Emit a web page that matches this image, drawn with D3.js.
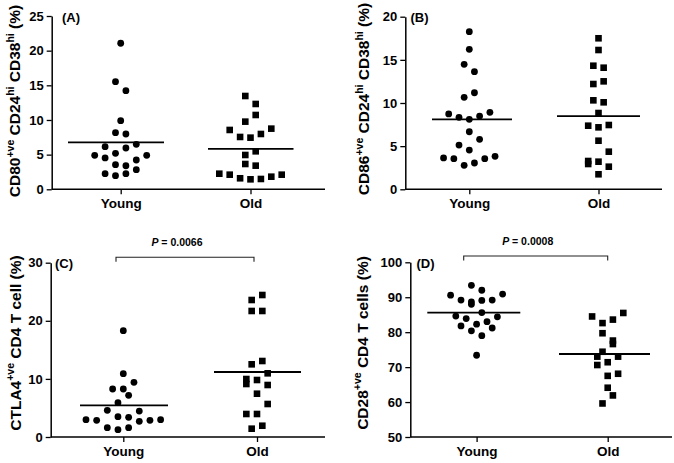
<!DOCTYPE html>
<html>
<head>
<meta charset="utf-8">
<script src="https://cdn.jsdelivr.net/npm/d3@7"></script>
<style>
  html, body { margin: 0; padding: 0; background: #fff; }
  svg { display: block; }
  text { font-family: "Liberation Sans", Arial, sans-serif; font-weight: bold; fill: #000; }
</style>
</head>
<body>
<svg id="chart" width="674" height="463"></svg>
<script>
// ---------------- DATA ----------------
const categories = ["Young", "Old"];

// Panel A: CD80+ve CD24hi CD38hi (%)
const aYoung = [21.07,15.53,14.23,9.9,8.17,7.98,6.15,5.96,6.49,5.19,4.9,4.9,4.52,4.23,3.55,3.4,2.83,2.25,2.25,1.96];
const aYoungJit = [0,-1,1,0,-1,1,-3,1,3,-1,-5,5,-3,3,-1,1,3,-3,1,-1];
const aOld = [13.46,12.31,10.72,9.76,8.56,8.75,7.55,7.45,7.98,5.48,4.95,3.65,3.41,2.25,2.11,1.59,1.44,1.49,1.82,2.11];
const aOldJit = [-1,1,1,-1,-4,4,-2,0,2,1,-1,-1,1,-6,-4,-2,0,2,4,6];
const aMeans = [6.78, 5.82];
const aTicks = [0,5,10,15,20,25];

// Panel B: CD86+ve CD24hi CD38hi (%)
const bYoung = [18.26,16.22,14.48,13.63,10.66,11.19,8.73,8.34,8.11,8.49,8.92,6.67,5.79,5.13,4.55,3.63,3.55,3.55,3.82,2.78,3.05];
const bYoungJit = [0,0,-1,1,-1,1,-4,-2,0,2,4,0,2,-2,0,-5,-3,3,5,-1,1];
const bOld = [17.5,16.14,14.32,14.09,12.2,12.51,10.31,10.08,8.84,7.37,7.18,7.45,5.63,4.36,3.28,2.93,3.2,2.62,1.74];
const bOldJit = [0,0,-1,1,-1,1,-1,1,0,-2,0,2,0,2,-2,-2,0,2,0];
const bMeans = [8.11, 8.49];
const bTicks = [0,5,10,15,20];

// Panel C: CTLA4+ve CD4 T cell (%)
const cYoung = [18.3,10.9,9.41,8.26,8.26,7.17,5.9,4.59,4.47,3.5,3.39,2.98,2.87,2.7,2.87,2.98,1.6,1.26,1.6];
const cYoungJit = [0,0,2,-2,0,1,-1,-3,3,-1,1,-7,-5,3,5,7,-3,-1,1];
const cOld = [24.44,23.58,21.69,21.69,12.51,13.08,10.96,9.98,9.12,9.81,8.95,7.45,5.68,3.96,3.96,1.43,1.94];
const cOldJit = [1,-1,-1,1,-1,1,2,-2,-2,0,2,0,2,-2,0,-1,1];
const cMeans = [5.45, 11.19];
const cTicks = [0,10,20,30];
const cP = "0.0066";

// Panel D: CD28+ve CD4 T cells (%)
const dYoung = [93.4,90.6,92.0,90.9,89.2,88.7,88.0,89.1,89.2,84.6,85.6,84.4,83.9,83.0,81.8,82.3,81.2,80.4,79.0,73.4];
const dYoungJit = [-1,-5,1,5,-3,-1,-1,1,3,-4,1,4,-2,2,-3,0,3,-1,1,0];
const dOld = [84.5,85.5,82.6,83.6,79.7,77.6,76.6,74.4,73.0,73.0,71.4,70.6,68.1,67.5,64.1,61.9,59.6];
const dOldJit = [-3,3,-1,1,-1,1,1,-1,-2,2,0,-2,2,0,0,1,-1];
const dMeans = [85.6, 73.75];
const dTicks = [50,60,70,80,90,100];
const dP = "0.0008";

// ---------------- LAYOUT ----------------
const panels = [
  { letter: "(A)", young: aYoung, yj: aYoungJit, old: aOld, oj: aOldJit, means: aMeans, ticks: aTicks,
    domain: [0,25], x0: 51.7, x1: 325, yTop: 16, yBot: 189.3, cat: [120.7, 250.5], unit: 5.2,
    lines: [[-52.7, 43.3], [-42.5, 43]], letterPos: [62, 21.5],
    label: [["CD80"],["+ve","sup"],[" CD24"],["hi","sup"],[" CD38"],["hi","sup"],[" (%)"]], labelPos: [20, 101] },
  { letter: "(B)", young: bYoung, yj: bYoungJit, old: bOld, oj: bOldJit, means: bMeans, ticks: bTicks,
    domain: [0,20], x0: 405.3, x1: 662, yTop: 16.7, yBot: 189.3, cat: [469.3, 598.5], unit: 5.15,
    lines: [[-37.3, 42.7], [-41.5, 41.5]], letterPos: [410.5, 21.5],
    label: [["CD86"],["+ve","sup"],[" CD24"],["hi","sup"],[" CD38"],["hi","sup"],[" (%)"]], labelPos: [369, 99] },
  { letter: "(C)", young: cYoung, yj: cYoungJit, old: cOld, oj: cOldJit, means: cMeans, ticks: cTicks,
    domain: [0,30], x0: 50.7, x1: 325, yTop: 262.7, yBot: 437, cat: [123.3, 257], unit: 5.33,
    lines: [[-43.3, 44.7], [-43, 44]], letterPos: [55, 267.5], p: cP, bracket: [116, 254, 257.3],
    label: [["CTLA4"],["+ve","sup"],[" CD4 T cell (%)"]], labelPos: [20.5, 343] },
  { letter: "(D)", young: dYoung, yj: dYoungJit, old: dOld, oj: dOldJit, means: dMeans, ticks: dTicks,
    domain: [50,100], x0: 410.3, x1: 672, yTop: 262.3, yBot: 437, cat: [476.6, 607.7], unit: 5.2,
    lines: [[-49.3, 43.7], [-48.7, 42.3]], letterPos: [416.5, 267.5], p: dP, bracket: [463.7, 607.7, 256],
    label: [["CD28"],["+ve","sup"],[" CD4 T cells (%)"]], labelPos: [367.5, 343] }
];

const svg = d3.select("#chart");

panels.forEach(p => {
  const g = svg.append("g");
  const y = d3.scaleLinear().domain(p.domain).range([p.yBot, p.yTop]);
  const x = d3.scalePoint().domain(categories).range(p.cat);

  // Y axis
  const yAxis = d3.axisLeft(y).tickValues(p.ticks).tickSize(5).tickPadding(3).tickSizeOuter(0);
  const ya = g.append("g").attr("transform", `translate(${p.x0},0)`).call(yAxis);
  ya.select(".domain").attr("stroke", "#000").attr("stroke-width", 1.5);
  ya.selectAll(".tick line").attr("stroke", "#000").attr("stroke-width", 1.3);
  ya.selectAll(".tick text").style("font-size", "13px").style("font-weight", "bold")
    .style("font-family", "'Liberation Sans', Arial, sans-serif").attr("fill", "#000");

  // X axis
  const xAxis = d3.axisBottom(x).tickSize(5).tickPadding(4).tickSizeOuter(0);
  const xa = g.append("g").attr("transform", `translate(0,${p.yBot})`).call(xAxis);
  xa.select(".domain").attr("d", `M${p.x0},0H${p.x1}`).attr("stroke", "#000").attr("stroke-width", 1.5);
  xa.selectAll(".tick line").attr("stroke", "#000").attr("stroke-width", 1.3);
  xa.selectAll(".tick text").style("font-size", "13.5px").style("font-weight", "bold")
    .style("font-family", "'Liberation Sans', Arial, sans-serif").attr("fill", "#000");

  // Points: Young circles
  g.selectAll("circle.pt").data(p.young.map((v, i) => ({ v, j: p.yj[i] })))
    .enter().append("circle").attr("class", "pt")
    .attr("cx", d => x("Young") + d.j * p.unit)
    .attr("cy", d => y(d.v))
    .attr("r", 3.4).attr("fill", "#000");

  // Old squares
  const s = 6.6;
  g.selectAll("rect.pt").data(p.old.map((v, i) => ({ v, j: p.oj[i] })))
    .enter().append("rect").attr("class", "pt")
    .attr("x", d => x("Old") + d.j * p.unit - s / 2)
    .attr("y", d => y(d.v) - s / 2)
    .attr("width", s).attr("height", s).attr("fill", "#000");

  // Mean lines
  categories.forEach((c, i) => {
    g.append("line")
      .attr("x1", x(c) + p.lines[i][0]).attr("x2", x(c) + p.lines[i][1])
      .attr("y1", y(p.means[i])).attr("y2", y(p.means[i]))
      .attr("stroke", "#000").attr("stroke-width", 1.8);
  });

  // Panel letter
  g.append("text").attr("x", p.letterPos[0]).attr("y", p.letterPos[1])
    .style("font-size", "13px").text(p.letter);

  // Y label
  const lt = g.append("text")
    .attr("transform", `translate(${p.labelPos[0]},${p.labelPos[1]}) rotate(-90)`)
    .attr("text-anchor", "middle").style("font-size", "15.5px");
  p.label.forEach(part => {
    const ts = lt.append("tspan").text(part[0]);
    if (part[1] === "sup") {
      ts.style("font-size", "10.5px").attr("dy", "-6.5");
    } else {
      ts.attr("dy", lt.node().childNodes.length > 1 ? "6.5" : "0");
    }
  });

  // Significance bracket
  if (p.bracket) {
    const [bx1, bx2, by] = p.bracket;
    g.append("path")
      .attr("d", `M${bx1},${by + 4.5}V${by}H${bx2}V${by + 4.5}`)
      .attr("fill", "none").attr("stroke", "#222").attr("stroke-width", 1.1);
    const t = g.append("text").attr("x", (bx1 + bx2) / 2 - 8).attr("y", by - 11.5)
      .attr("text-anchor", "middle").style("font-size", "10.5px");
    t.append("tspan").style("font-style", "italic").text("P");
    t.append("tspan").text(" = " + p.p);
  }
});
</script>
</body>
</html>
